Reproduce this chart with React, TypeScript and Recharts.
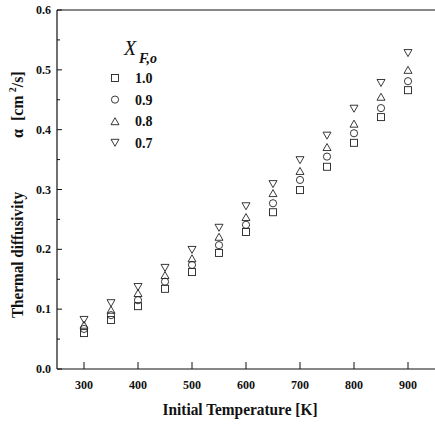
import { ScatterChart, Scatter, XAxis, YAxis, ReferenceLine, Customized } from 'recharts';

const TEMPS = [300, 350, 400, 450, 500, 550, 600, 650, 700, 750, 800, 850, 900];
const ALPHA_10 = [0.060, 0.082, 0.105, 0.134, 0.162, 0.194, 0.229, 0.262, 0.299, 0.338, 0.378, 0.421, 0.466];
const ALPHA_09 = [0.067, 0.090, 0.115, 0.146, 0.174, 0.207, 0.241, 0.277, 0.316, 0.355, 0.394, 0.436, 0.481];
const ALPHA_08 = [0.074, 0.099, 0.127, 0.157, 0.185, 0.221, 0.254, 0.294, 0.331, 0.371, 0.410, 0.455, 0.500];
const ALPHA_07 = [0.082, 0.110, 0.137, 0.169, 0.199, 0.236, 0.272, 0.309, 0.349, 0.390, 0.435, 0.478, 0.528];

const X_TICKS = [300, 350, 400, 450, 500, 550, 600, 650, 700, 750, 800, 850, 900];
const Y_TICKS = [0, 0.05, 0.1, 0.15, 0.2, 0.25, 0.3, 0.35, 0.4, 0.45, 0.5, 0.55, 0.6];
const LEGEND_LABELS = ['1.0', '0.9', '0.8', '0.7'];

const SERIF = { fontFamily: "'Liberation Serif', 'Times New Roman', serif" };
const INK = '#111';

type Kind = 'square' | 'circle' | 'up' | 'down';

const marker = (kind: Kind, cx: number, cy: number) => {
  const p = { fill: 'none', stroke: '#222', strokeWidth: 0.9 };
  if (kind === 'square') return <rect x={cx - 3.5} y={cy - 3.5} width={7} height={7} {...p} />;
  if (kind === 'circle') return <circle cx={cx} cy={cy} r={3.6} {...p} />;
  if (kind === 'up') return <polygon points={`${cx - 4},${cy + 3.5} ${cx + 4},${cy + 3.5} ${cx},${cy - 3.5}`} {...p} />;
  return <polygon points={`${cx - 4},${cy - 3.5} ${cx + 4},${cy - 3.5} ${cx},${cy + 3.5}`} {...p} />;
};

const shape = (kind: Kind) => (props: any) => marker(kind, props.cx, props.cy);

const toData = (vals: number[]) => TEMPS.map((t, i) => ({ t, a: vals[i] }));

const SERIES: { kind: Kind; vals: number[] }[] = [
  { kind: 'square', vals: ALPHA_10 },
  { kind: 'circle', vals: ALPHA_09 },
  { kind: 'up', vals: ALPHA_08 },
  { kind: 'down', vals: ALPHA_07 },
];

const XTick = ({ x, y, payload }: any) => {
  const major = payload.value % 100 === 0;
  return (
    <g>
      <line x1={x} x2={x} y1={y} y2={y - (major ? 7 : 4)} stroke={INK} strokeWidth={1} />
      {major && (
        <text x={x} y={y + 20} textAnchor="middle" style={SERIF} fontWeight="bold" fontSize={12} fill={INK}>
          {payload.value}
        </text>
      )}
    </g>
  );
};

const YTick = ({ x, y, payload }: any) => {
  const major = Math.round(payload.value * 100) % 10 === 0;
  return (
    <g>
      <line x1={x} x2={x + (major ? 5 : 3)} y1={y} y2={y} stroke={INK} strokeWidth={1} />
      {major && (
        <text x={x - 6} y={y + 4} textAnchor="end" style={SERIF} fontWeight="bold" fontSize={12} fill={INK}>
          {payload.value.toFixed(1)}
        </text>
      )}
    </g>
  );
};

const Decorations = () => (
  <g style={SERIF} fill={INK}>
    <text
      transform="translate(23,255) rotate(-90)"
      textAnchor="middle"
      fontWeight="bold"
      fontSize={16}
      textLength={126}
      lengthAdjust="spacingAndGlyphs"
    >
      Thermal diffusivity
    </text>
    <text transform="translate(23,138) rotate(-90)" fontWeight="bold" fontSize={16}>
      <tspan>α</tspan>
      <tspan dx={8}>[cm</tspan>
      <tspan dy={-7} fontSize={10} dx={3}>2</tspan>
      <tspan dy={7}>/s]</tspan>
    </text>
    <text
      x={240}
      y={415}
      textAnchor="middle"
      fontWeight="bold"
      fontSize={16}
      textLength={155}
      lengthAdjust="spacingAndGlyphs"
    >
      Initial Temperature  [K]
    </text>
    <text x={124} y={55} fontStyle="italic" fontSize={20}>X</text>
    <text x={139} y={63} fontStyle="italic" fontWeight="bold" fontSize={14}>F,o</text>
    {SERIES.map((s, i) => (
      <g key={s.kind}>
        {marker(s.kind, 115, 78 + i * 21.6)}
        <text x={135} y={83 + i * 21.6} fontWeight="bold" fontSize={14}>
          {LEGEND_LABELS[i]}
        </text>
      </g>
    ))}
  </g>
);

const App = () => (
  <div style={{ position: 'absolute', left: 0, top: 0, background: '#fff' }}>
    <ScatterChart width={435} height={425} margin={{ top: 10, right: 0, left: 0, bottom: 0 }}>
      <XAxis
        type="number"
        dataKey="t"
        domain={[250, 950]}
        ticks={X_TICKS}
        allowDataOverflow
        height={56}
        tickSize={0}
        tickMargin={0}
        tick={<XTick />}
        axisLine={{ stroke: INK, strokeWidth: 1.2 }}
      />
      <YAxis
        type="number"
        dataKey="a"
        domain={[0, 0.6]}
        ticks={Y_TICKS}
        allowDataOverflow
        width={57}
        tickSize={0}
        tickMargin={0}
        tick={<YTick />}
        axisLine={{ stroke: INK, strokeWidth: 1.2 }}
      />
      <ReferenceLine y={0.6} stroke={INK} strokeWidth={1.2} />
      {SERIES.map((s) => (
        <Scatter key={s.kind} data={toData(s.vals)} shape={shape(s.kind)} isAnimationActive={false} />
      ))}
      <Customized component={Decorations} />
    </ScatterChart>
  </div>
);

export default App;
